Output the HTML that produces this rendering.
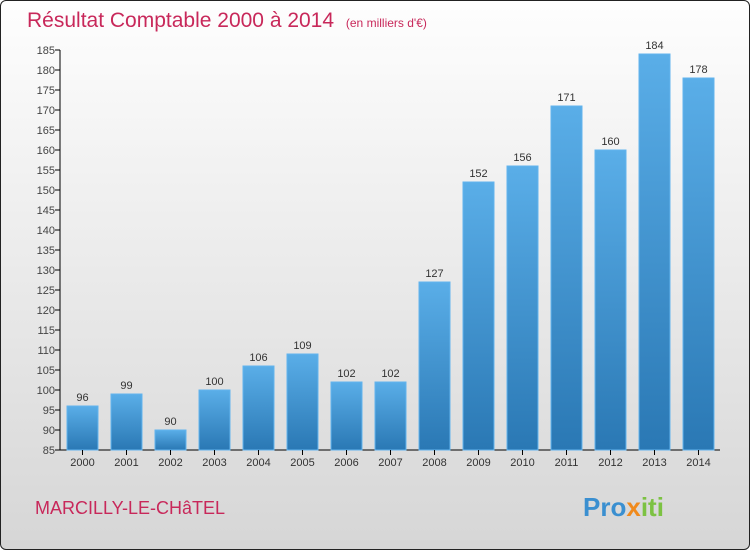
<!DOCTYPE html>
<html><head><meta charset="utf-8"><style>
body{margin:0;width:750px;height:550px;overflow:hidden;font-family:"Liberation Sans",sans-serif}
#frame{position:absolute;left:0;top:0;width:748px;height:548px;border:1px solid #222;border-radius:6px;background:linear-gradient(#fefefe,#f2f2f2 30%,#d6d6d6)}
</style></head><body>
<div id="frame"></div>
<svg id="c" width="750" height="550" style="position:absolute;left:0;top:0">
<defs><linearGradient id="bg" x1="0" y1="0" x2="0" y2="1"><stop offset="0" stop-color="#5aaee8"/><stop offset="1" stop-color="#2a78b4"/></linearGradient></defs>
<text x="27" y="27" font-size="21" fill="#c8285a">Résultat Comptable 2000 à 2014 <tspan font-size="12" dx="6">(en milliers d'€)</tspan></text>
<text x="35" y="514" font-size="18" fill="#c8285a">MARCILLY-LE-CHâTEL</text>
<text x="583" y="516" font-size="26" font-weight="bold"><tspan fill="#3a8fd0">Pro</tspan><tspan fill="#f08a1c">x</tspan><tspan fill="#7cc242">iti</tspan></text>
</svg>
<script>
const years=["2000","2001","2002","2003","2004","2005","2006","2007","2008","2009","2010","2011","2012","2013","2014"];
const values=[96,99,90,100,106,109,102,102,127,152,156,171,160,184,178];
const ticks=[85,90,95,100,105,110,115,120,125,130,135,140,145,150,155,160,165,170,175,180,185];
const svg=document.getElementById('c');const NS='http://www.w3.org/2000/svg';
const y=v=>450-(v-85)*4;const x=i=>82.5+i*44;
function mk(t,a){const e=document.createElementNS(NS,t);for(const k in a)e.setAttribute(k,a[k]);svg.appendChild(e);return e;}
let ax=mk('line',{x1:60,y1:50,x2:60,y2:450,stroke:'#000'});


let bx=mk('line',{x1:60,y1:450,x2:720,y2:450,stroke:'#000'});


ticks.forEach(t=>{mk('line',{x1:55,x2:60,y1:y(t),y2:y(t),stroke:'#000'});
const l=mk('text',{x:55,y:y(t)+4,'font-size':11,fill:'#444','text-anchor':'end'});l.textContent=t;

});
values.forEach((v,i)=>{const r=mk('rect',{x:x(i)-15.5,y:y(v),width:31,height:450-y(v),fill:'url(#bg)',stroke:'#62b4ee','stroke-width':1});


const vl=mk('text',{x:x(i),y:y(v)-5,'font-size':11,fill:'#333','text-anchor':'middle'});vl.textContent=v;


mk('line',{x1:x(i),x2:x(i),y1:450,y2:455,stroke:'#000'});
const xl=mk('text',{x:x(i),y:466,'font-size':11,fill:'#333','text-anchor':'middle'});xl.textContent=years[i];

});
</script>
</body></html>
